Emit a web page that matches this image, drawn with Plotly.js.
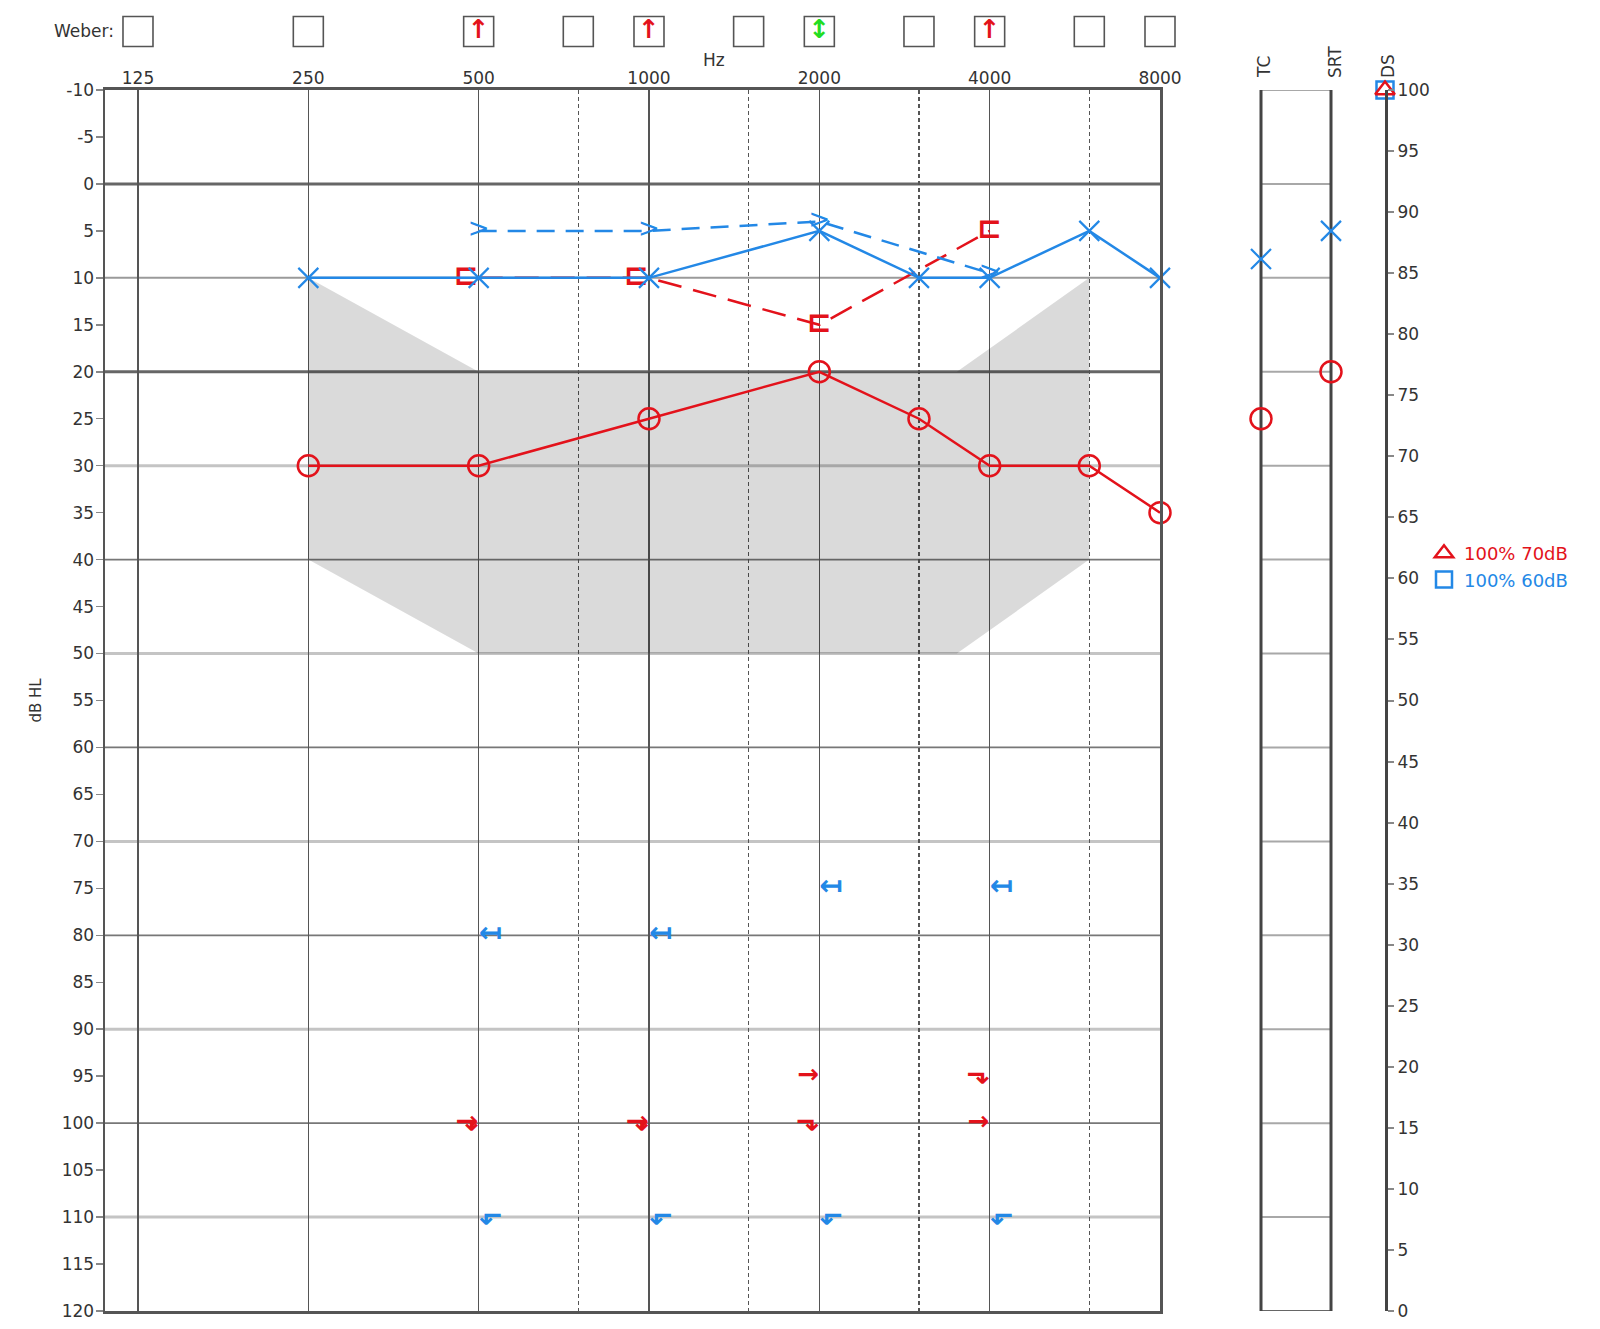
<!DOCTYPE html>
<html><head><meta charset="utf-8">
<script src="https://cdn.plot.ly/plotly-3.0.1.min.js"></script>
<style>html,body{margin:0;padding:0;background:#fff}</style>
</head><body><div id="chart" style="width:1600px;height:1329px"></div>
<script>
// ---------- data ----------
const freqTicks = [125, 250, 500, 1000, 2000, 4000, 8000];
const freqTickLabels = ['125', '250', '500', '1000', '2000', '4000', '8000'];
const halfOctaveFreqs = [750, 1500, 3000, 6000];

const dbTickVals = [-10, -5, 0, 5, 10, 15, 20, 25, 30, 35, 40, 45, 50, 55, 60, 65, 70, 75, 80, 85, 90, 95, 100, 105, 110, 115, 120];
const dbTickLabels = ['-10', '-5', '0', '5', '10', '15', '20', '25', '30', '35', '40', '45', '50', '55', '60', '65', '70', '75', '80', '85', '90', '95', '100', '105', '110', '115', '120'];

const weberFreqs = [125, 250, 500, 750, 1000, 1500, 2000, 3000, 4000, 6000, 8000];
const weberSymbols = ['', '', '↑', '', '↑', '', '↕', '', '↑', '', ''];
const weberColors = ['#e3121b', '#e3121b', '#e3121b', '#e3121b', '#e3121b', '#e3121b', '#22dd22', '#e3121b', '#e3121b', '#e3121b', '#e3121b'];

const acFreqs = [250, 500, 1000, 2000, 3000, 4000, 6000, 8000];
const acRight = [30, 30, 25, 20, 25, 30, 30, 35];
const acLeft = [10, 10, 10, 5, 10, 10, 5, 10];

const bcFreqs = [500, 1000, 2000, 4000];
const bcRightMasked = [10, 10, 15, 5];
const bcLeftMasked = [5, 5, 4, 9.5];

const nrFreqs = [500, 1000, 2000, 4000];
const nrRightArrow = [100, 100, 95, 100];
const nrRightBracket = [100, 100, 100, 95];
const nrLeftArrow = [80, 80, 75, 75];
const nrLeftBracket = [110, 110, 110, 110];

const bananaFreqs = [250, 500, 3500, 6000, 6000, 3500, 500, 250];
const bananaLevels = [10, 20, 20, 10, 40, 50, 50, 40];

const speechCols = ['TC', 'SRT'];
const speechLeft = [8, 5];
const speechRight = [25, 20];

const dsCategory = ['DS'];
const dsLeft = [100];
const dsRight = [100];
const dsLabels = ['100% 70dB', '100% 60dB'];

const gridLevels = [0, 10, 20, 30, 40, 50, 60, 70, 80, 90, 100, 110];
const panelLevels = [-10, 0, 10, 20, 30, 40, 50, 60, 70, 80, 90, 100, 110, 120];

// ---------- style ----------
const RED = '#e3121b';
const BLUE = '#2388e6';
const FONT = 'DejaVu Sans, Verdana, sans-serif';

const rep = (arr, v) => arr.map(() => v);

const traces = [
  { // speech banana
    x: bananaFreqs, y: bananaLevels, xaxis: 'x', yaxis: 'y',
    mode: 'lines', fill: 'toself', fillcolor: 'rgba(0,0,0,0.145)',
    line: { width: 0 }, hoverinfo: 'skip', showlegend: false
  },
  { // right masked bone
    x: bcFreqs, y: bcRightMasked, xaxis: 'x', yaxis: 'y',
    mode: 'lines+text', text: rep(bcFreqs, '⊏'),
    textposition: ['middle left', 'middle left', 'middle center', 'middle center'],
    textfont: { color: RED, size: 30, family: FONT, weight: 'bold' },
    line: { color: RED, width: 2.5, dash: '24px,12px' }, showlegend: false, cliponaxis: false
  },
  { // left masked bone
    x: bcFreqs, y: bcLeftMasked, xaxis: 'x', yaxis: 'y',
    mode: 'lines+text', text: rep(bcFreqs, '>'), textposition: 'middle center',
    textfont: { color: BLUE, size: 26, family: FONT },
    line: { color: BLUE, width: 2.5, dash: '18px,11px' }, showlegend: false, cliponaxis: false
  },
  { // left air
    x: acFreqs, y: acLeft, xaxis: 'x', yaxis: 'y',
    mode: 'lines+markers', line: { color: BLUE, width: 2.5 },
    marker: { symbol: 'x-thin-open', size: 20, color: BLUE, line: { width: 2.2, color: BLUE } },
    showlegend: false, cliponaxis: false
  },
  { // right air
    x: acFreqs, y: acRight, xaxis: 'x', yaxis: 'y',
    mode: 'lines+markers', line: { color: RED, width: 2.5 },
    marker: { symbol: 'circle-open', size: 21, color: RED, line: { width: 2.5, color: RED } },
    showlegend: false, cliponaxis: false
  },
  { x: nrFreqs, y: nrRightArrow, xaxis: 'x', yaxis: 'y', mode: 'text', text: rep(nrFreqs, '→'),
    textposition: 'middle left', textfont: { color: RED, size: 26, family: FONT, weight: 'bold' }, showlegend: false, cliponaxis: false },
  { x: nrFreqs, y: nrRightBracket, xaxis: 'x', yaxis: 'y', mode: 'text', text: rep(nrFreqs, '⬎'),
    textposition: 'middle left', textfont: { color: RED, size: 28, family: FONT, weight: 'bold' }, showlegend: false, cliponaxis: false },
  { x: nrFreqs, y: nrLeftArrow, xaxis: 'x', yaxis: 'y', mode: 'text', text: rep(nrFreqs, '↤'),
    textposition: 'middle right', textfont: { color: BLUE, size: 28, family: FONT, weight: 'bold' }, showlegend: false, cliponaxis: false },
  { x: nrFreqs, y: nrLeftBracket, xaxis: 'x', yaxis: 'y', mode: 'text', text: rep(nrFreqs, '⬐'),
    textposition: 'middle right', textfont: { color: BLUE, size: 28, family: FONT, weight: 'bold' }, showlegend: false, cliponaxis: false },
  { // Weber row
    x: weberFreqs, y: rep(weberFreqs, 'Weber'), xaxis: 'x6', yaxis: 'y5',
    mode: 'markers+text', text: weberSymbols, textposition: 'middle center',
    textfont: { color: weberColors, size: 26, family: FONT, weight: 'bold' },
    marker: { symbol: 'square-open', size: 30, color: '#555', line: { width: 1.6, color: '#555' } },
    showlegend: false, cliponaxis: false
  },
  { // speech TC / SRT
    x: speechCols, y: speechLeft, xaxis: 'x2', yaxis: 'y', mode: 'markers',
    marker: { symbol: 'x-thin-open', size: 20, color: BLUE, line: { width: 2.2, color: BLUE } },
    showlegend: false, cliponaxis: false
  },
  {
    x: speechCols, y: speechRight, xaxis: 'x2', yaxis: 'y', mode: 'markers',
    marker: { symbol: 'circle-open', size: 21, color: RED, line: { width: 2.5, color: RED } },
    showlegend: false, cliponaxis: false
  },
  { // DS
    x: dsCategory, y: dsLeft, xaxis: 'x3', yaxis: 'y3', mode: 'markers',
    name: '<span style="color:' + BLUE + '">' + dsLabels[1] + '</span>', legendrank: 2,
    marker: { symbol: 'square-open', size: 17, color: BLUE, line: { width: 2.5, color: BLUE } },
    cliponaxis: false
  },
  {
    x: dsCategory, y: dsRight, xaxis: 'x3', yaxis: 'y3', mode: 'markers',
    name: '<span style="color:' + RED + '">' + dsLabels[0] + '</span>', legendrank: 1,
    marker: { symbol: 'triangle-up-open', size: 17, color: RED, line: { width: 2.5, color: RED } },
    cliponaxis: false
  }
];

// ---------- frame lines ----------
const W = 1600, H = 1329, ML = 105, MR = 0, MT = 10, MB = 18;
const PW = W - ML - MR, PH = H - MT - MB;
const px = p => (p - ML) / PW;
const py = p => (MT + PH - p) / PH;

const mainStyle = {
  0: ['#666', 3], 10: ['#9a9a9a', 2], 20: ['#666', 3], 30: ['#c4c4c4', 3], 40: ['#777', 1.8],
  50: ['#c4c4c4', 3], 60: ['#777', 1.8], 70: ['#c4c4c4', 3], 80: ['#777', 1.8], 90: ['#c4c4c4', 3],
  100: ['#777', 1.8], 110: ['#c4c4c4', 3]
};
const shapes = [];
gridLevels.forEach(v => {
  shapes.push({ type: 'line', xref: 'x domain', yref: 'y', x0: 0, x1: 1, y0: v, y1: v,
    line: { color: mainStyle[v][0], width: mainStyle[v][1] }, layer: 'below' });
});
panelLevels.forEach(v => {
  shapes.push({ type: 'line', xref: 'x2 domain', yref: 'y', x0: 0, x1: 1, y0: v, y1: v,
    line: { color: (v === 120 ? '#666' : '#a8a8a8'), width: 2 }, layer: 'below' });
});
[0, 1].forEach(e => {
  shapes.push({ type: 'line', xref: 'x2 domain', yref: 'y', x0: e, x1: e, y0: -10, y1: 120,
    line: { color: '#444', width: 3 }, layer: 'below' });
});

const yDomTop = py(90);

const layout = {
  width: W, height: H,
  margin: { l: ML, r: MR, t: MT, b: MB, pad: 0 },
  paper_bgcolor: '#fff', plot_bgcolor: 'rgba(0,0,0,0)',
  font: { family: FONT, size: 17, color: '#333' },
  showlegend: true,
  legend: { x: px(1424), y: py(535), xanchor: 'left', yanchor: 'top', bgcolor: 'rgba(0,0,0,0)',
    font: { size: 18, family: FONT }, traceorder: 'normal', itemclick: false, tracegroupgap: 0 },
  xaxis: {
    type: 'log', domain: [0, px(1160)], range: [Math.log10(125) - 0.0583, Math.log10(8000)],
    anchor: 'y', side: 'top', tickmode: 'array', tickvals: freqTicks, ticktext: freqTickLabels,
    ticks: '', ticklabelstandoff: -4, showgrid: true, gridcolor: '#555', gridwidth: 1.5, zeroline: false,
    showline: true, mirror: true, linecolor: '#555', linewidth: 3,
    tickfont: { size: 17, color: '#333' },
    minor: { tickmode: 'array', tickvals: halfOctaveFreqs, showgrid: true, gridcolor: '#555',
      gridwidth: 1.1, griddash: '4px,3px', ticks: '' }
  },
  yaxis: {
    domain: [0, yDomTop], range: [120, -10], anchor: 'x', tickmode: 'array',
    tickvals: dbTickVals, ticktext: dbTickLabels,
    ticks: 'outside', ticklen: 7, tickcolor: '#888', tickwidth: 1.5, ticklabelstandoff: -2,
    showgrid: false, zeroline: false, showline: true, mirror: true, linecolor: '#555', linewidth: 2.5,
    tickfont: { size: 17, color: '#333' },
    title: { text: 'dB HL', font: { size: 15, color: '#333' }, standoff: 17 }
  },
  xaxis2: {
    domain: [px(1261), px(1331)], anchor: 'y', type: 'category', categoryarray: speechCols,
    range: [0, 1], showticklabels: false, showgrid: false, zeroline: false, showline: false, ticks: ''
  },
  xaxis3: {
    domain: [px(1375), px(1385)], anchor: 'y3', type: 'category', categoryarray: dsCategory,
    range: [-1, 0], visible: false
  },
  yaxis3: {
    domain: [0, yDomTop], anchor: 'x3', side: 'right', range: [0, 100], tickmode: 'linear', tick0: 0, dtick: 5,
    ticks: 'outside', ticklen: 6, tickcolor: '#888', tickwidth: 2,
    showline: true, linecolor: '#444', linewidth: 3, showgrid: false, zeroline: false,
    tickfont: { size: 17, color: '#333' }
  },
  yaxis4: {
    overlaying: 'y3', anchor: 'x3', side: 'right', range: [0, 100], tickmode: 'linear', tick0: 0, dtick: 5,
    ticks: 'inside', ticklen: 6, tickcolor: '#888', tickwidth: 2,
    showticklabels: false, showline: false, showgrid: false, zeroline: false
  },
  xaxis6: {
    domain: [0, px(1160)], anchor: 'y5', type: 'log', matches: 'x', visible: false
  },
  yaxis5: {
    domain: [py(46), py(17)], anchor: 'x6', type: 'category', range: [-0.5, 0.5], visible: false
  },
  shapes: shapes,
  annotations: [
    { text: 'Hz', xref: 'paper', yref: 'paper', x: px(714), y: py(60), showarrow: false,
      xanchor: 'center', yanchor: 'middle', font: { size: 17, color: '#333' } },
    { text: 'Weber:', xref: 'paper', yref: 'paper', x: px(116), y: py(31.5), showarrow: false,
      xanchor: 'right', yanchor: 'middle', font: { size: 17, color: '#333' } },
    { text: 'TC', xref: 'paper', yref: 'paper', x: px(1264), y: py(80), showarrow: false, textangle: -90,
      xanchor: 'center', yanchor: 'bottom', font: { size: 17, color: '#333' } },
    { text: 'SRT', xref: 'paper', yref: 'paper', x: px(1335), y: py(80), showarrow: false, textangle: -90,
      xanchor: 'center', yanchor: 'bottom', font: { size: 17, color: '#333' } },
    { text: 'DS', xref: 'paper', yref: 'paper', x: px(1388), y: py(80), showarrow: false, textangle: -90,
      xanchor: 'center', yanchor: 'bottom', font: { size: 17, color: '#333' } }
  ]
};

Plotly.newPlot('chart', traces, layout, { displayModeBar: false, staticPlot: true });
</script>
</body></html>
